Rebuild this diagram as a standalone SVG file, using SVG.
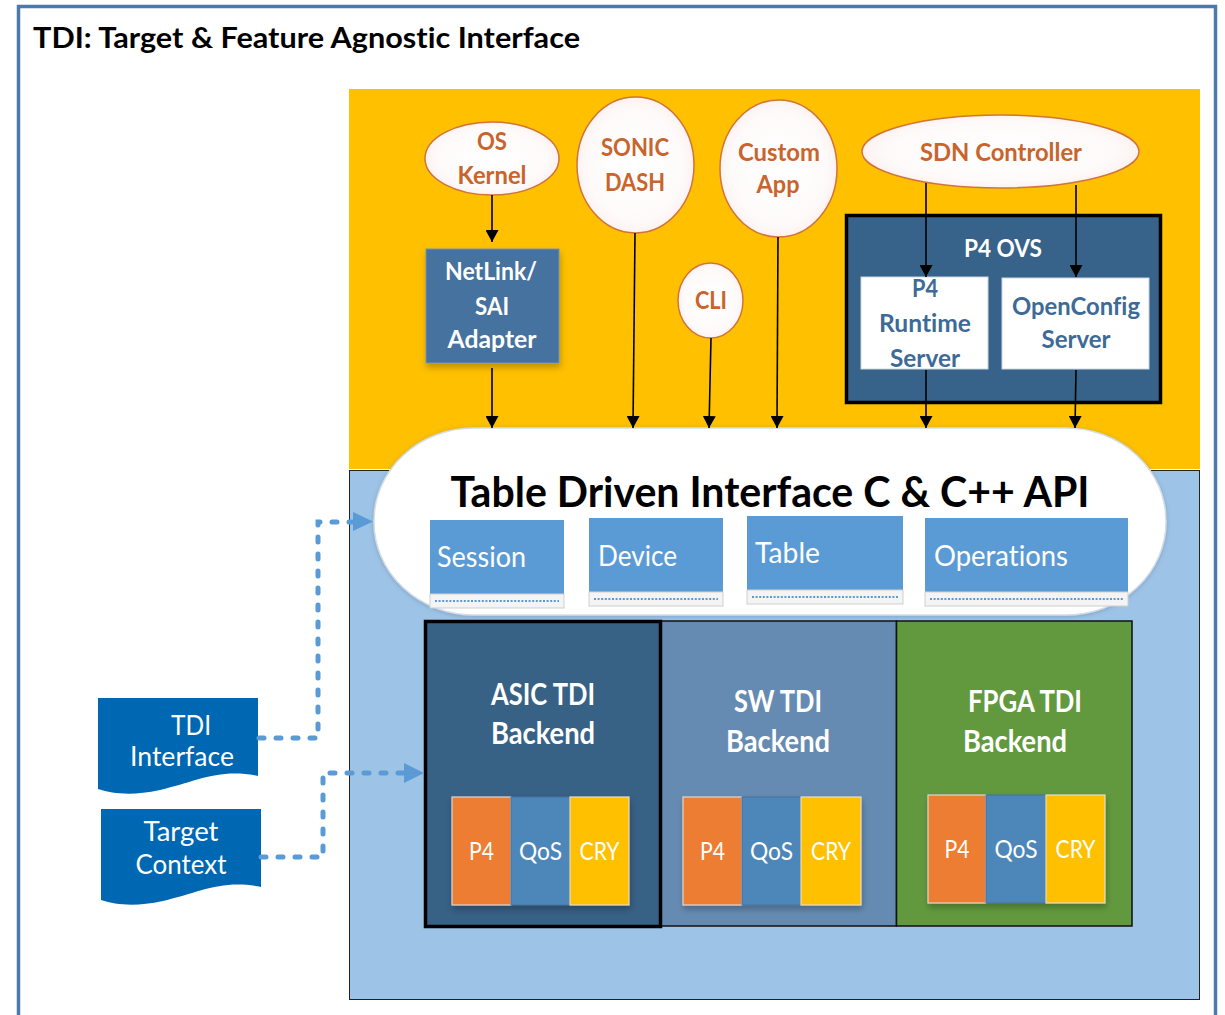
<svg xmlns="http://www.w3.org/2000/svg" width="1225" height="1015" viewBox="0 0 1225 1015">
<defs>
<style>
text{font-family:Lato,"Liberation Sans",sans-serif;font-variant-ligatures:none;font-feature-settings:"liga" 0,"clig" 0}
.title{font-size:28px;font-weight:bold;fill:#000}
.api{font-size:42px;font-weight:bold;fill:#000}
.sub{font-size:28px;fill:#fff}
.be{font-size:30px;font-weight:bold;fill:#fff}
.mini{font-size:25px;fill:#fff}
.ell{font-size:25px;font-weight:bold;fill:#c8642c}
.wb{font-size:25px;font-weight:bold;fill:#fff}
.bb{font-size:25px;font-weight:bold;fill:#3d6a96}
.doc{font-size:27px;fill:#fff}
.ellipse{fill:url(#eg);stroke:#d0743c;stroke-width:1.5}
.arr{stroke:#000;stroke-width:1.6;fill:none;marker-end:url(#ah)}
.dash{stroke:#5b9bd5;stroke-width:5;fill:none;stroke-dasharray:5 12;stroke-linecap:round}
.subbox{fill:#5b9bd5}
.strip{fill:#f4f4f4;stroke:#cfcfcf;stroke-width:1}
.dots{stroke:#5b9bd5;stroke-width:2;stroke-dasharray:2 1.6}
.p4{fill:#ed7d31;stroke:#e0d6d0;stroke-width:1.2}
.qos{fill:#4e87ba;stroke:#45739e;stroke-width:1}
.cry{fill:#ffc000;stroke:#e8dcc0;stroke-width:1.2}
</style>
<radialGradient id="eg" cx="0.5" cy="0.5" r="0.55">
<stop offset="0" stop-color="#ffffff"/>
<stop offset="0.75" stop-color="#fefafa"/>
<stop offset="1" stop-color="#fbeeea"/>
</radialGradient>
<marker id="ah" viewBox="0 0 12 13" refX="12" refY="6.5" markerWidth="12" markerHeight="13" markerUnits="userSpaceOnUse" orient="auto">
<path d="M0,0 L12,6.5 L0,13 Z" fill="#000"/>
</marker>
<filter id="sh" x="-20%" y="-20%" width="140%" height="140%">
<feDropShadow dx="1" dy="4" stdDeviation="3" flood-color="#000" flood-opacity="0.25"/>
</filter>
<filter id="psh" x="-5%" y="-10%" width="110%" height="120%">
<feDropShadow dx="0" dy="1" stdDeviation="2" flood-color="#5a7da0" flood-opacity="0.45"/>
</filter>
</defs>

<rect width="1225" height="1015" fill="#fff"/>
<rect x="18.5" y="6.5" width="1197" height="1030" fill="none" stroke="#4e79ad" stroke-width="3.5"/>
<text class="title" x="33" y="48" textLength="547" lengthAdjust="spacingAndGlyphs">TDI: Target &amp; Feature Agnostic Interface</text>

<g id="app-area">
<rect x="349" y="89" width="851" height="380" fill="#ffc000"/>
</g>
<g id="tdi-area">
<rect x="349.5" y="470.5" width="850" height="529" fill="#9dc3e6" stroke="#222" stroke-width="1"/>
</g>

<g id="os-kernel">
<ellipse class="ellipse" cx="492" cy="158.5" rx="67" ry="36.5"/>
<text class="ell" x="492" y="150" text-anchor="middle" textLength="30" lengthAdjust="spacingAndGlyphs">OS</text>
<text class="ell" x="492" y="184" text-anchor="middle" textLength="69" lengthAdjust="spacingAndGlyphs">Kernel</text>
</g>
<g id="sonic-dash">
<ellipse class="ellipse" cx="635.5" cy="165" rx="58.5" ry="68"/>
<text class="ell" x="635" y="156" text-anchor="middle" textLength="68" lengthAdjust="spacingAndGlyphs">SONIC</text>
<text class="ell" x="635" y="191" text-anchor="middle" textLength="60" lengthAdjust="spacingAndGlyphs">DASH</text>
</g>
<g id="custom-app">
<ellipse class="ellipse" cx="778.5" cy="168.5" rx="58.5" ry="68.5"/>
<text class="ell" x="779" y="161" text-anchor="middle" textLength="82" lengthAdjust="spacingAndGlyphs">Custom</text>
<text class="ell" x="778" y="193" text-anchor="middle" textLength="43" lengthAdjust="spacingAndGlyphs">App</text>
</g>
<g id="cli">
<ellipse class="ellipse" cx="710.5" cy="300.5" rx="32.5" ry="37.5"/>
<text class="ell" x="711" y="309" text-anchor="middle" textLength="32" lengthAdjust="spacingAndGlyphs">CLI</text>
</g>
<g id="sdn-controller">
<ellipse class="ellipse" cx="1000.5" cy="151.5" rx="138.5" ry="36.5"/>
<text class="ell" x="1001" y="161" text-anchor="middle" textLength="162" lengthAdjust="spacingAndGlyphs">SDN Controller</text>
</g>
<g id="netlink-sai-adapter">
<rect x="426" y="249" width="133" height="114" fill="#44729e" stroke="#6f93b8" stroke-width="1" filter="url(#sh)"/>
<text class="wb" x="491" y="280" text-anchor="middle" textLength="92" lengthAdjust="spacingAndGlyphs">NetLink/</text>
<text class="wb" x="492" y="315" text-anchor="middle" textLength="34" lengthAdjust="spacingAndGlyphs">SAI</text>
<text class="wb" x="492" y="348" text-anchor="middle" textLength="89" lengthAdjust="spacingAndGlyphs">Adapter</text>
</g>
<g id="p4-ovs">
<rect x="846.5" y="215.5" width="314" height="187" fill="#37628a" stroke="#000" stroke-width="3.5"/>
<text class="wb" x="1003" y="257" text-anchor="middle" textLength="78" lengthAdjust="spacingAndGlyphs">P4 OVS</text>
</g>
<g id="p4-runtime-server">
<rect x="861" y="277" width="127" height="92" fill="#fff" stroke="#cdd6e0" stroke-width="1"/>
<text class="bb" x="925" y="297" text-anchor="middle" textLength="26" lengthAdjust="spacingAndGlyphs">P4</text>
<text class="bb" x="925" y="332" text-anchor="middle" textLength="92" lengthAdjust="spacingAndGlyphs">Runtime</text>
<text class="bb" x="925" y="367" text-anchor="middle" textLength="70" lengthAdjust="spacingAndGlyphs">Server</text>
</g>
<g id="openconfig-server">
<rect x="1002" y="278" width="147" height="91" fill="#fff" stroke="#cdd6e0" stroke-width="1"/>
<text class="bb" x="1076" y="315" text-anchor="middle" textLength="128" lengthAdjust="spacingAndGlyphs">OpenConfig</text>
<text class="bb" x="1076" y="348" text-anchor="middle" textLength="69" lengthAdjust="spacingAndGlyphs">Server</text>
</g>

<g id="tdi-api">
<rect x="374" y="428" width="792" height="187" rx="100" ry="93" fill="#fff" stroke="#d6dde6" stroke-width="1.5" filter="url(#psh)"/>
<text class="api" x="770" y="507" text-anchor="middle" textLength="639" lengthAdjust="spacingAndGlyphs">Table Driven Interface C &amp; C++ API</text>
</g>
<g id="session">
<rect class="subbox" x="430" y="520" width="134" height="74"/>
<rect class="strip" x="430" y="594" width="134" height="14"/>
<line class="dots" x1="435" y1="601" x2="559" y2="601"/>
<text class="sub" x="437" y="567" textLength="89" lengthAdjust="spacingAndGlyphs">Session</text>
</g>
<g id="device">
<rect class="subbox" x="589" y="518" width="134" height="74"/>
<rect class="strip" x="589" y="592" width="134" height="14"/>
<line class="dots" x1="594" y1="599" x2="718" y2="599"/>
<text class="sub" x="598" y="566" textLength="79" lengthAdjust="spacingAndGlyphs">Device</text>
</g>
<g id="table">
<rect class="subbox" x="747" y="516" width="156" height="74"/>
<rect class="strip" x="747" y="590" width="156" height="14"/>
<line class="dots" x1="752" y1="597" x2="898" y2="597"/>
<text class="sub" x="755" y="563" textLength="65" lengthAdjust="spacingAndGlyphs">Table</text>
</g>
<g id="operations">
<rect class="subbox" x="925" y="518" width="203" height="74"/>
<rect class="strip" x="925" y="592" width="203" height="14"/>
<line class="dots" x1="930" y1="599" x2="1123" y2="599"/>
<text class="sub" x="934" y="566" textLength="134" lengthAdjust="spacingAndGlyphs">Operations</text>
</g>

<g id="sw-tdi-backend">
<rect x="661" y="621" width="235.5" height="305" fill="#668bb2" stroke="#111" stroke-width="1.5"/>
<text class="be" x="778" y="712" text-anchor="middle" textLength="88" lengthAdjust="spacingAndGlyphs">SW TDI</text>
<text class="be" x="778" y="752" text-anchor="middle" textLength="104" lengthAdjust="spacingAndGlyphs">Backend</text>
<g filter="url(#sh)">
<rect class="p4" x="683" y="797" width="59" height="108"/>
<rect class="qos" x="742" y="797" width="59" height="108"/>
<rect class="cry" x="801" y="797" width="60" height="108"/>
</g>
<text class="mini" x="712.5" y="860" text-anchor="middle" textLength="25" lengthAdjust="spacingAndGlyphs">P4</text>
<text class="mini" x="771.5" y="860" text-anchor="middle" textLength="43" lengthAdjust="spacingAndGlyphs">QoS</text>
<text class="mini" x="831" y="860" text-anchor="middle" textLength="40" lengthAdjust="spacingAndGlyphs">CRY</text>
</g>
<g id="fpga-tdi-backend">
<rect x="896.5" y="621" width="235.5" height="305" fill="#62993e" stroke="#111" stroke-width="1.5"/>
<text class="be" x="1025" y="712" text-anchor="middle" textLength="114" lengthAdjust="spacingAndGlyphs">FPGA TDI</text>
<text class="be" x="1015" y="752" text-anchor="middle" textLength="104" lengthAdjust="spacingAndGlyphs">Backend</text>
<g filter="url(#sh)">
<rect class="p4" x="928" y="795" width="58" height="108"/>
<rect class="qos" x="986" y="795" width="60" height="108"/>
<rect class="cry" x="1046" y="795" width="59" height="108"/>
</g>
<text class="mini" x="957" y="858" text-anchor="middle" textLength="25" lengthAdjust="spacingAndGlyphs">P4</text>
<text class="mini" x="1016" y="858" text-anchor="middle" textLength="43" lengthAdjust="spacingAndGlyphs">QoS</text>
<text class="mini" x="1075.5" y="858" text-anchor="middle" textLength="40" lengthAdjust="spacingAndGlyphs">CRY</text>
</g>
<g id="asic-tdi-backend">
<rect x="425.5" y="621.5" width="235" height="305" fill="#386186" stroke="#000" stroke-width="3.5"/>
<text class="be" x="543" y="705" text-anchor="middle" textLength="104" lengthAdjust="spacingAndGlyphs">ASIC TDI</text>
<text class="be" x="543" y="744" text-anchor="middle" textLength="104" lengthAdjust="spacingAndGlyphs">Backend</text>
<g filter="url(#sh)">
<rect class="p4" x="452" y="797" width="59" height="108"/>
<rect class="qos" x="511" y="797" width="59" height="108"/>
<rect class="cry" x="570" y="797" width="59" height="108"/>
</g>
<text class="mini" x="481.5" y="860" text-anchor="middle" textLength="25" lengthAdjust="spacingAndGlyphs">P4</text>
<text class="mini" x="540.5" y="860" text-anchor="middle" textLength="43" lengthAdjust="spacingAndGlyphs">QoS</text>
<text class="mini" x="599.5" y="860" text-anchor="middle" textLength="40" lengthAdjust="spacingAndGlyphs">CRY</text>
</g>

<g id="tdi-interface">
<path d="M98,698 H258 V776 C218,768 196,782 160,790 C132,796 114,794 98,789 Z" fill="#0067b3"/>
<text class="doc" x="191" y="735" text-anchor="middle" textLength="40" lengthAdjust="spacingAndGlyphs">TDI</text>
<text class="doc" x="182" y="766" text-anchor="middle" textLength="104" lengthAdjust="spacingAndGlyphs">Interface</text>
</g>
<g id="target-context">
<path d="M101,809 H261 V887 C221,879 199,893 163,901 C135,907 117,905 101,900 Z" fill="#0067b3"/>
<text class="doc" x="181" y="841" text-anchor="middle" textLength="75" lengthAdjust="spacingAndGlyphs">Target</text>
<text class="doc" x="181" y="874" text-anchor="middle" textLength="91" lengthAdjust="spacingAndGlyphs">Context</text>
</g>

<g id="connectors">
<line class="arr" x1="492" y1="195" x2="492" y2="242"/>
<line class="arr" x1="492" y1="368" x2="492" y2="428"/>
<line class="arr" x1="635" y1="233" x2="633" y2="428"/>
<line class="arr" x1="711" y1="338" x2="709" y2="428"/>
<line class="arr" x1="778" y1="237" x2="777" y2="428"/>
<line class="arr" x1="926" y1="183" x2="926" y2="277"/>
<line class="arr" x1="1076" y1="185" x2="1076" y2="277"/>
<line class="arr" x1="926" y1="370" x2="926" y2="428"/>
<line class="arr" x1="1076" y1="370" x2="1075" y2="428"/>
<path class="dash" d="M259,738 H318 V522 H352"/>
<path d="M353,512 L373,521.5 L353,531 Z" fill="#5b9bd5"/>
<path class="dash" d="M261,857 H323 V773 H403"/>
<path d="M404,763 L424,773 L404,783 Z" fill="#5b9bd5"/>
</g>
</svg>
